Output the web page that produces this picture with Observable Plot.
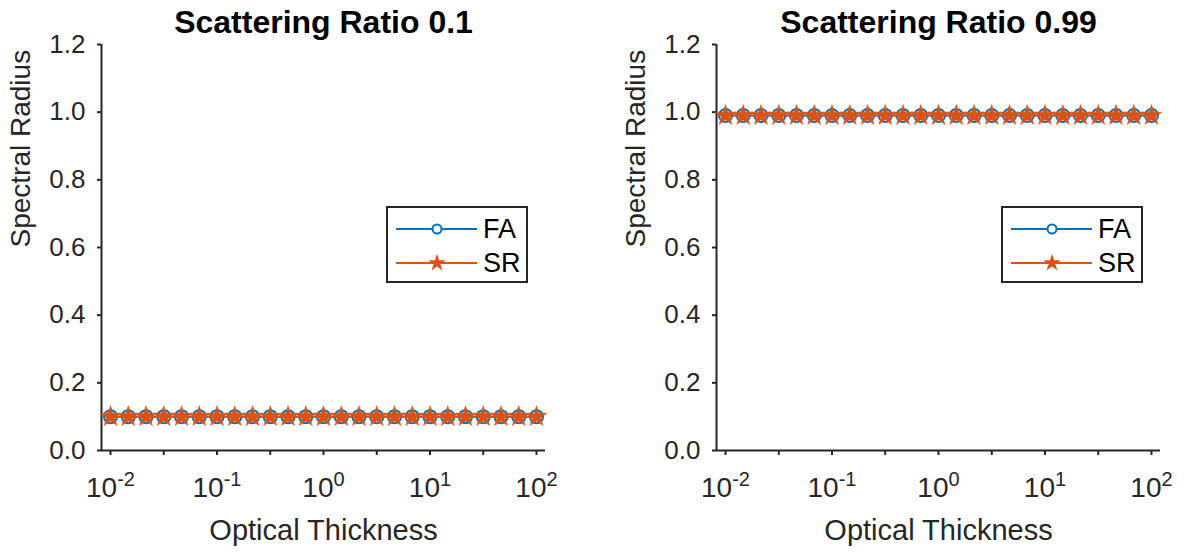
<!DOCTYPE html>
<html><head><meta charset="utf-8">
<script src="https://cdn.jsdelivr.net/npm/d3@7"></script>
<script src="https://cdn.jsdelivr.net/npm/@observablehq/plot@0.6"></script>
<style>
body{margin:0;background:#fff;}
#chart{position:relative;width:1184px;height:552px;overflow:hidden;background:#fff;font-family:"Liberation Sans",Arial,Helvetica,sans-serif;}
.panel{position:absolute;top:0;}
.legend{position:absolute;top:206px;width:142px;height:77px;box-sizing:border-box;border:2px solid #262626;background:#fff;}
.legend svg{display:block;}
</style></head><body><div id="chart"></div>
<script>
const opticalThickness = [0.01, 0.01468, 0.02154, 0.03162, 0.04642, 0.06813,
  0.1, 0.1468, 0.2154, 0.3162, 0.4642, 0.6813,
  1, 1.468, 2.154, 3.162, 4.642, 6.813,
  10, 14.68, 21.54, 31.62, 46.42, 68.13, 100];
// Spectral radius, scattering ratio 0.1
const faLeft = [0.1,0.1,0.1,0.1,0.1,0.1,0.1,0.1,0.1,0.1,0.1,0.1,0.1,0.1,0.1,0.1,0.1,0.1,0.1,0.1,0.1,0.1,0.1,0.1,0.1];
const srLeft = [0.1,0.1,0.1,0.1,0.1,0.1,0.1,0.1,0.1,0.1,0.1,0.1,0.1,0.1,0.1,0.1,0.1,0.1,0.1,0.1,0.1,0.1,0.1,0.1,0.1];
// Spectral radius, scattering ratio 0.99
const faRight = [0.99,0.99,0.99,0.99,0.99,0.99,0.99,0.99,0.99,0.99,0.99,0.99,0.99,0.99,0.99,0.99,0.99,0.99,0.99,0.99,0.99,0.99,0.99,0.99,0.99];
const srRight = [0.99,0.99,0.99,0.99,0.99,0.99,0.99,0.99,0.99,0.99,0.99,0.99,0.99,0.99,0.99,0.99,0.99,0.99,0.99,0.99,0.99,0.99,0.99,0.99,0.99];

const panelTitles = ["Scattering Ratio 0.1", "Scattering Ratio 0.99"];
const seriesNames = ["FA", "SR"];
const seriesColors = ["#0072BD", "#D95319"];
const xLabel = "Optical Thickness";
const yLabel = "Spectral Radius";
const yTicks = [0, 0.2, 0.4, 0.6, 0.8, 1.0, 1.2];
const xTicks = [0.01, 0.03162, 0.1, 0.3162, 1, 3.162, 10, 31.62, 100];
const xLabeledTicks = [0.01, 0.1, 1, 10, 100];
const xDomain = [0.00823, 121.5];
const yDomain = [0, 1.2];

const AX = "#262626";
const FONT = '"Liberation Sans", Arial, Helvetica, sans-serif';
const chart = document.getElementById("chart");
const NS = "http://www.w3.org/2000/svg";

function panel(title, fa, sr, leftPx) {
  const rows = [];
  opticalThickness.forEach((t, i) => {
    rows.push({tau: t, value: fa[i], series: seriesNames[0]});
  });
  opticalThickness.forEach((t, i) => {
    rows.push({tau: t, value: sr[i], series: seriesNames[1]});
  });
  const faRows = rows.filter(d => d.series === "FA");
  const srRows = rows.filter(d => d.series === "SR");
  const svg = Plot.plot({
    width: 569, height: 552,
    marginLeft: 101, marginRight: 24, marginTop: 44, marginBottom: 102,
    style: {fontFamily: FONT, fontSize: "26px", color: AX, background: "transparent", overflow: "visible"},
    x: {type: "log", domain: xDomain, axis: null},
    y: {domain: yDomain, axis: null},
    marks: [
      Plot.axisY({ticks: yTicks, tickFormat: d3.format(".1f"), tickSize: 4, tickPadding: 12, strokeWidth: 2, fontSize: 26, label: null}),
      Plot.axisX({ticks: xTicks, tickSize: 5, tickPadding: 22, strokeWidth: 2, fontSize: 28, label: null,
        tickFormat: d => xLabeledTicks.some(v => Math.abs(v - d) < 1e-9) ? "10^" + Math.round(Math.log10(d)) : ""}),
      Plot.ruleY([yDomain[0]], {stroke: AX, strokeWidth: 2}),
      Plot.ruleX([xDomain[0]], {stroke: AX, strokeWidth: 2}),
      Plot.lineY(faRows, {x: "tau", y: "value", stroke: seriesColors[0], strokeWidth: 2}),
      Plot.dot(faRows, {x: "tau", y: "value", r: 6.5, stroke: seriesColors[0], strokeWidth: 2, fill: "none"}),
      Plot.lineY(srRows, {x: "tau", y: "value", stroke: seriesColors[1], strokeWidth: 2}),
      Plot.dot(srRows, {x: "tau", y: "value", r: 6.6, symbol: "star", fill: seriesColors[1], stroke: seriesColors[1], strokeWidth: 0.5}),
      Plot.text([title], {text: d => d, frameAnchor: "top", dy: -22, lineAnchor: "middle", fontSize: 32, fontWeight: "bold", fill: "#000"}),
      Plot.text([xLabel], {text: d => d, frameAnchor: "bottom", dy: 80, lineAnchor: "middle", fontSize: 29, fill: AX}),
      Plot.text([yLabel], {text: d => d, frameAnchor: "left", dx: -80, rotate: -90, lineAnchor: "middle", fontSize: 28, fill: AX})
    ]
  });
  // superscript exponents on the x tick labels
  svg.querySelectorAll('g[aria-label="x-axis tick label"] text').forEach(t => {
    const s = t.textContent;
    if (!s) { t.remove(); return; }
    const [b, e] = s.split("^");
    t.textContent = "";
    const t1 = document.createElementNS(NS, "tspan");
    t1.textContent = b;
    const t2 = document.createElementNS(NS, "tspan");
    t2.setAttribute("dy", "-11");
    t2.setAttribute("font-size", "20");
    t2.textContent = e;
    t.append(t1, t2);
  });
  const wrap = document.createElement("div");
  wrap.className = "panel";
  wrap.style.left = leftPx + "px";
  wrap.appendChild(svg);

  // legend
  const lg = document.createElement("div");
  lg.className = "legend";
  lg.style.left = "386px";
  const ls = d3.create("svg").attr("width", 138).attr("height", 73);
  const rowsY = [21, 55];
  seriesNames.forEach((name, i) => {
    const g = ls.append("g").attr("transform", `translate(0,${rowsY[i]})`);
    g.append("line").attr("x1", 8).attr("x2", 89).attr("y1", 0).attr("y2", 0)
      .attr("stroke", seriesColors[i]).attr("stroke-width", 2);
    if (i === 0) {
      g.append("circle").attr("cx", 49).attr("cy", 0).attr("r", 4.5)
        .attr("fill", "#fff").attr("stroke", seriesColors[i]).attr("stroke-width", 2);
    } else {
      g.append("path").attr("transform", "translate(49,0)")
        .attr("d", d3.symbol(d3.symbolStar, Math.PI * 5.5 * 5.5)())
        .attr("fill", seriesColors[i]);
    }
    g.append("text").attr("x", 95).attr("y", 0).attr("dy", "0.35em")
      .attr("font-family", FONT).attr("font-size", 27).attr("fill", "#000").text(name);
  });
  lg.appendChild(ls.node());
  wrap.appendChild(lg);
  chart.appendChild(wrap);
}

panel(panelTitles[0], faLeft, srLeft, 0);
panel(panelTitles[1], faRight, srRight, 615);
</script>
</body></html>
